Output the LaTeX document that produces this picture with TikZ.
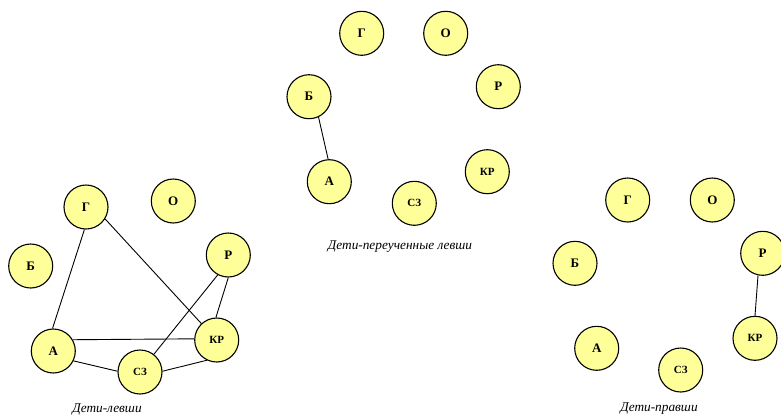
\documentclass[tikz,border=0pt]{standalone}
\usepackage{fontspec}
\setmainfont{Liberation Serif}
\begin{document}
\begin{tikzpicture}[x=1pt,y=-1pt,
  person/.style={circle,draw=black,line width=1.1pt,fill=yellowfill,minimum size=44pt,inner sep=0pt,font=\bfseries\fontsize{13}{13}\selectfont},
  pair/.style={person,font=\bfseries\fontsize{11}{11}\selectfont},
  link/.style={draw=black,line width=0.9pt},
  caption/.style={font=\itshape\fontsize{13.3}{13.3}\selectfont}]
\definecolor{yellowfill}{HTML}{FFFF99}
\useasboundingbox (0,0) rectangle (781,418);
\clip (0,0) rectangle (781,418);
% left group
\node[person] (lG) at (86,207) {Г};
\node[person] (lO) at (173.3,201) {О};
\node[person] (lB) at (30.7,266) {Б};
\node[person] (lR) at (228.3,255) {Р};
\node[person] (lA) at (53.3,351) {А};
\node[pair] (lKR) at (216.7,340) {КР};
\node[pair] (lSZ) at (140,372) {СЗ};
\node[caption] (lcap) at (107,409) {Дети-левши};
\draw[link] (lG.266) -- (lA.92);
\draw[link] (lG.328) -- (lKR.133);
\draw[link] (lR.242) -- (lSZ.52);
\draw[link] (lR.270) -- (lKR.92);
\draw[link] (lA.30) -- (lKR.177);
\draw[link] (lA.334) -- (lSZ.178);
\draw[link] (lSZ.2) -- (lKR.244);
% middle group
\node[person] (mG) at (361.7,33.3) {Г};
\node[person] (mO) at (445.7,33.3) {О};
\node[person] (mR) at (498.3,86.7) {Р};
\node[person] (mB) at (309,96.7) {Б};
\node[person] (mA) at (329.3,181.7) {А};
\node[pair] (mKR) at (487.3,171.7) {КР};
\node[pair] (mSZ) at (414.3,203.3) {СЗ};
\node[caption] (mcap) at (400,246.7) {Дети-переученные левши};
\draw[link] (mB.295) -- (mA.93);
% right group
\node[person] (rG) at (627.7,200) {Г};
\node[person] (rO) at (712.3,200) {О};
\node[person] (rB) at (575,263.3) {Б};
\node[person] (rR) at (762.7,253.3) {Р};
\node[person] (rA) at (596.7,348.3) {А};
\node[pair] (rKR) at (755,338.3) {КР};
\node[pair] (rSZ) at (680.7,370) {СЗ};
\node[caption] (rcap) at (659,409) {Дети-правши};
\draw[link] (rR.258) -- (rKR.90);
\end{tikzpicture}
\end{document}
